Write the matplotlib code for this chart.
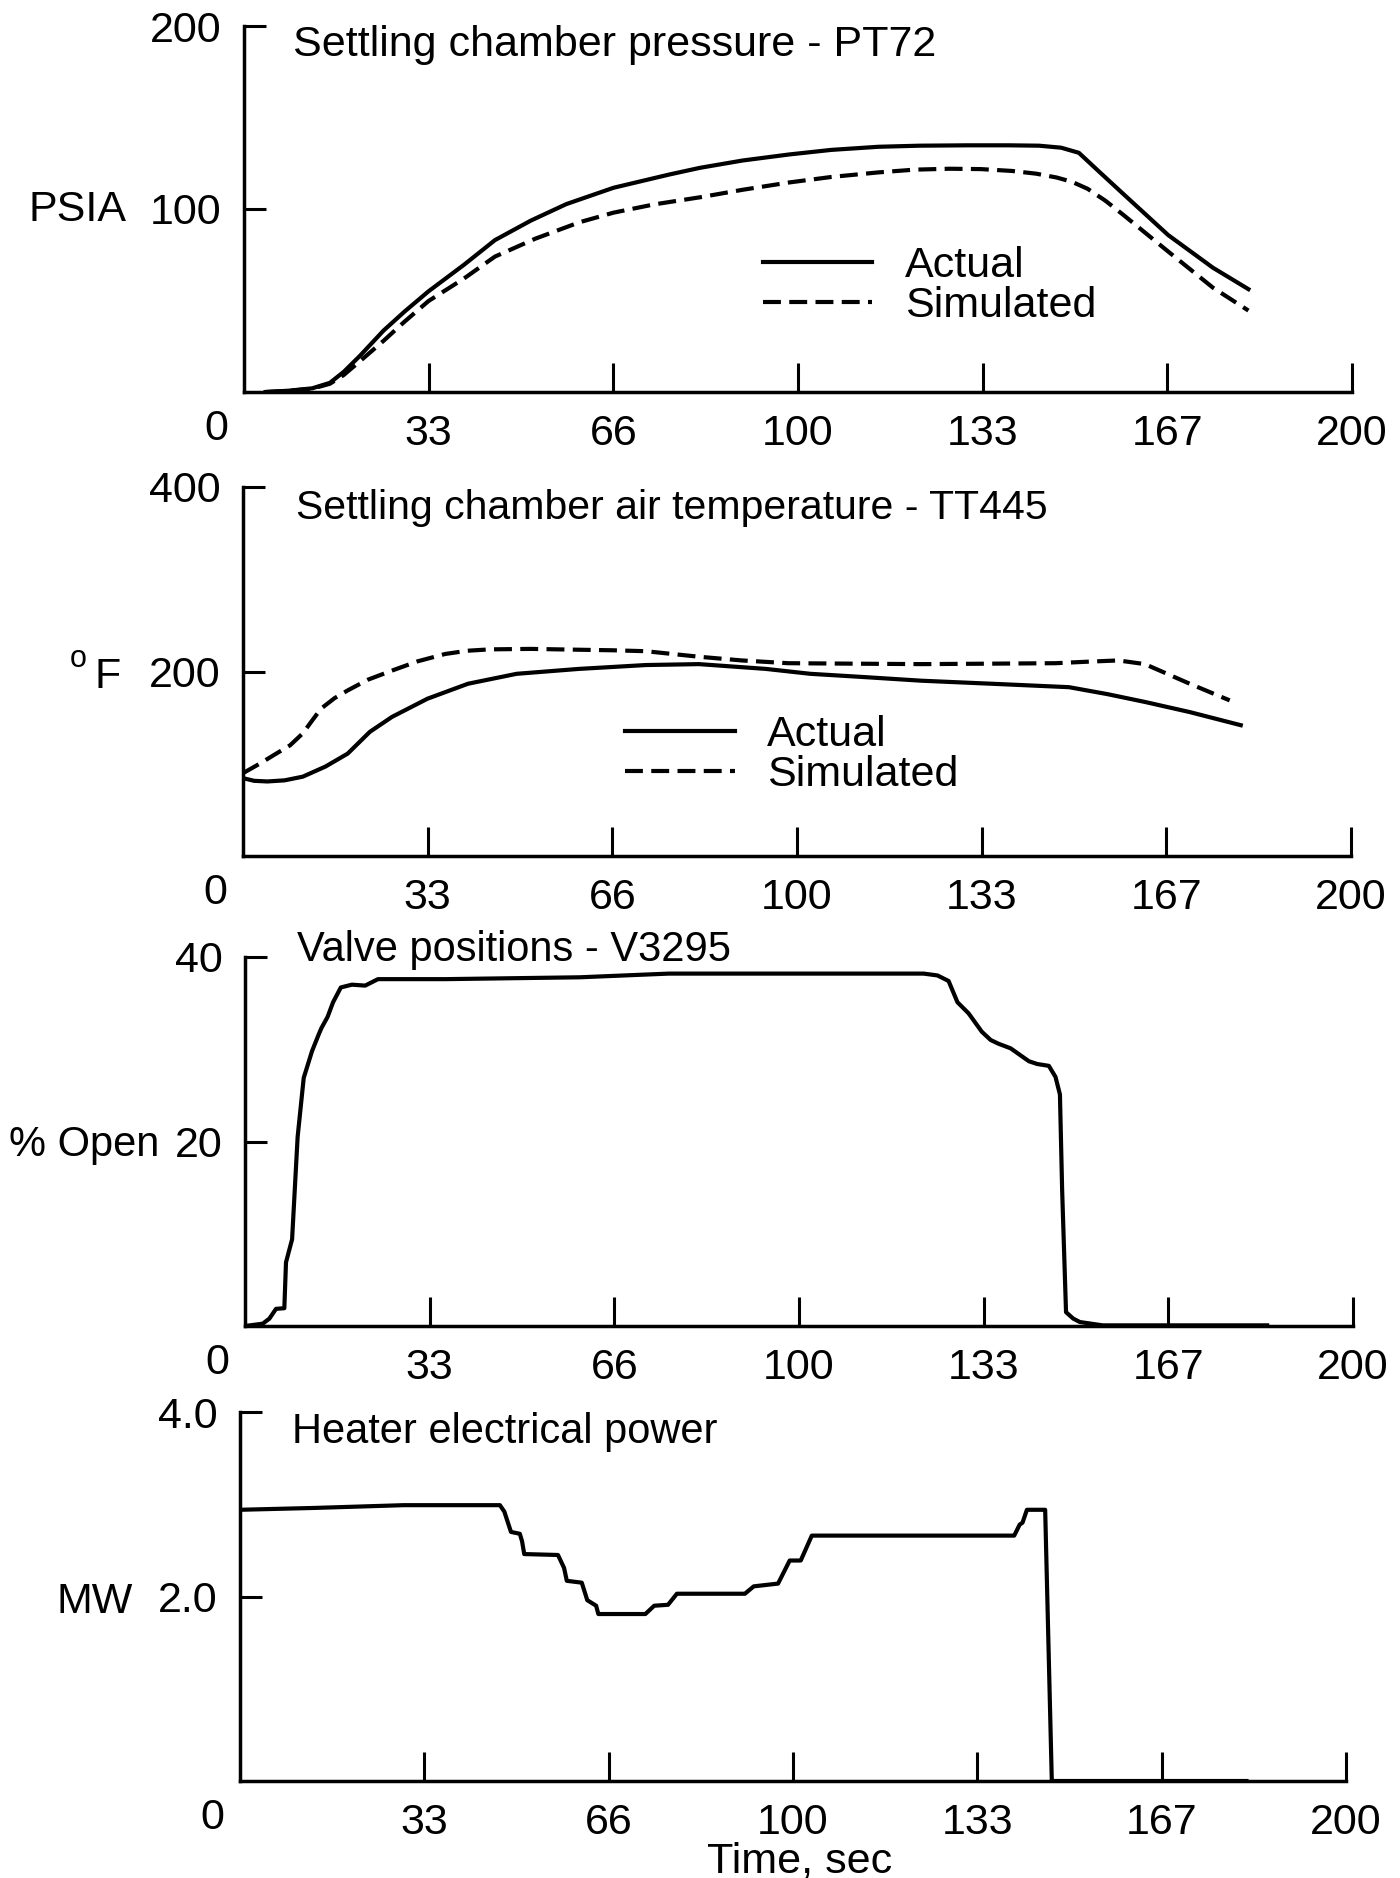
import matplotlib
matplotlib.use('Agg')
import matplotlib.pyplot as plt
import matplotlib.transforms as mtransforms

plt.rcParams['font.family'] = ['Liberation Sans', 'DejaVu Sans']

# ---------------- data ----------------
time_ticks = [100/3, 200/3, 100, 400/3, 500/3, 200]
time_tick_labels = ['33', '66', '100', '133', '167', '200']

# Panel 1: settling chamber pressure (PSIA)
p_act_t = [3.9, 8, 12.3, 15.5, 18, 21, 25.2, 29, 33.3, 39.7, 45.3, 51.8, 58.2, 66.7, 76.7, 82.3, 90,
           98.4, 106, 114.5, 122, 130.6, 138, 143.5, 147.5, 150.7, 154.5, 158.8, 166.8, 174.9, 181.3]
p_act_v = [0, 0.7, 2, 5, 11, 20, 33.6, 44, 55, 69.5, 83, 93.7, 102.7, 111.6, 118.8, 122.5, 126.5,
           129.8, 132.3, 134, 134.6, 134.8, 134.8, 134.6, 133.5, 130.7, 120, 108, 85.8, 67.9, 56.2]
p_sim_t = [3.9, 8, 12.3, 15.5, 18, 21, 25.2, 29, 33.3, 39.7, 45.3, 52.6, 60.6, 66.7, 74, 82.3, 90,
           98.4, 106, 114.5, 121, 127.4, 133, 138.6, 143, 146.7, 149.5, 152.3, 155.5, 158.8, 166.8,
           174.9, 181.3]
p_sim_v = [0, 0.6, 1.8, 4.5, 9.3, 17, 28, 38.5, 49.7, 62, 74, 83.8, 92.8, 98, 102.5, 106.4, 110.5,
           114.5, 117.5, 120, 121.5, 122, 121.8, 120.8, 119.3, 117.2, 114.8, 111, 104.5, 96.6, 76.8,
           57, 44.5]

# Panel 2: settling chamber air temperature (deg F)
t_act_t = [0, 2, 4.4, 7.5, 10.8, 14.9, 18.9, 22.9, 26.9, 33.3, 40.6, 49.4, 60.6, 72.7, 82.3, 94.4,
           102.4, 112, 122.5, 136, 149.1, 156, 162.8, 170.9, 180.1]
t_act_v = [84.4, 81.5, 80.8, 82, 86, 97, 111, 134.6, 150.8, 170.5, 186.7, 197.5, 202.8, 207, 208,
           202.8, 197.5, 194, 190, 186.5, 183, 175.5, 167, 156, 141.8]
t_sim_t = [0, 3, 6, 8.5, 10.8, 12.5, 14.1, 16.5, 18.9, 22.5, 26.9, 31.5, 36.5, 40.5, 44.6, 52, 60.6,
           66.7, 72.7, 82.3, 90, 98.4, 110, 122.5, 135, 146.7, 152, 158, 162.8, 166.8, 170.9, 178.1]
t_sim_v = [89.8, 100, 111, 120, 133, 147, 159.8, 171, 179.5, 191, 201, 211, 219, 222.5, 224, 224.5,
           223.6, 223, 222, 216, 212, 209, 208.5, 208, 208.5, 209, 210.5, 212, 208, 197.5, 186.7,
           168.7]

# Panel 3: valve position V3295 (% open)
v_t = [0, 3.2, 4.4, 5.6, 7.1, 7.4, 8.5, 9.5, 10.6, 12.1, 13.3, 13.8, 14.9, 15.9, 17.3, 19.3, 21.7,
       24, 36.2, 60.4, 76.5, 100, 122.5, 125, 127, 128.6, 130.6, 133, 134.6, 136, 138.2, 141.5, 143,
       145.1, 146.3, 147.1, 147.5, 148.2, 149.5, 150.7, 154.8, 184.5]
v_open = [0, 0.25, 0.8, 1.86, 1.93, 6.9, 9.4, 20.5, 26.9, 29.8, 31.6, 32.3, 33.5, 35.1, 36.7, 37,
          36.9, 37.6, 37.6, 37.8, 38.2, 38.2, 38.2, 38.0, 37.4, 35.1, 33.9, 31.9, 31.0, 30.6, 30.1,
          28.7, 28.4, 28.2, 27.0, 25.1, 14.7, 1.5, 0.8, 0.43, 0.07, 0.07]

# Panel 4: heater electrical power (MW)
h_t = [0, 13.4, 29.6, 47, 47.8, 49, 50.6, 51, 51.4, 57.5, 58.6, 59.1, 61.8, 62.8, 64.4, 64.8, 73.3,
       74.9, 77.4, 79, 91.3, 92.9, 97.3, 99.4, 101.4, 103.4, 140, 141, 141.5, 142.3, 145.6, 146.8, 182]
h_mw = [2.94, 2.96, 2.99, 2.99, 2.92, 2.70, 2.68, 2.60, 2.46, 2.45, 2.31, 2.17, 2.15, 1.96, 1.90,
        1.81, 1.81, 1.90, 1.91, 2.03, 2.03, 2.11, 2.14, 2.39, 2.39, 2.66, 2.66, 2.78, 2.80, 2.94,
        2.94, 0.0, 0.0]

series_labels = ['Actual', 'Simulated']

# ---------------- figure ----------------
W, H = 1400, 1878
fig = plt.figure(figsize=(W / 100, H / 100), dpi=100)

FS = 31
TFS = 30
LW = 3.0
DASH = (0, (4.3, 2.0))


def box(left_px, right_px, top_px, bottom_px):
    return [left_px / W, 1 - bottom_px / H, (right_px - left_px) / W, (bottom_px - top_px) / H]


def style(ax, ymax, yticks, ylabels):
    ax.set_xlim(0, 200)
    ax.set_ylim(0, ymax)
    for s in ('top', 'right'):
        ax.spines[s].set_visible(False)
    for s in ('left', 'bottom'):
        ax.spines[s].set_linewidth(2.5)
    ax.set_xticks(time_ticks)
    ax.set_xticklabels(time_tick_labels)
    ax.set_yticks(yticks)
    ax.set_yticklabels(ylabels)
    ax.tick_params(axis='x', direction='in', length=21, width=2.2, pad=16, labelsize=FS)
    ax.tick_params(axis='y', direction='in', length=16, width=2.2, pad=16, labelsize=FS)
    off = mtransforms.offset_copy(ax.transAxes, fig=fig, x=-28, y=-37, units='dots')
    ax.text(0, 0, '0', transform=off, ha='center', va='center', fontsize=FS)


def ftext(x, y, s, **kw):
    fig.text(x / W, 1 - y / H, s, **kw)


def legend(ax, x, top):
    ax.legend(loc='upper left', bbox_to_anchor=(x, top), frameon=False, fontsize=FS,
              handlelength=2.55, handletextpad=0.75, labelspacing=0.0, borderpad=0,
              borderaxespad=0)


# Panel 1
ax1 = fig.add_axes(box(244, 1352, 26, 392))
style(ax1, 200, [100, 200], ['100', '200'])
ax1.plot(p_act_t, p_act_v, color='black', lw=LW, label=series_labels[0])
ax1.plot(p_sim_t, p_sim_v, color='black', lw=LW, ls=DASH, label=series_labels[1])
ax1.text(0.044, 1 - (56 - 26) / 366, 'Settling chamber pressure - PT72', transform=ax1.transAxes,
         ha='left', va='baseline', fontsize=31)
legend(ax1, 0.468, 0.40)
ftext(77, 221, 'PSIA', ha='center', va='baseline', fontsize=FS)

# Panel 2
ax2 = fig.add_axes(box(243, 1351, 487, 856))
style(ax2, 400, [200, 400], ['200', '400'])
ax2.plot(t_act_t, t_act_v, color='black', lw=LW, label=series_labels[0])
ax2.plot(t_sim_t, t_sim_v, color='black', lw=LW, ls=DASH, label=series_labels[1])
ax2.text(0.048, 1 - (519 - 487) / 369, 'Settling chamber air temperature - TT445',
         transform=ax2.transAxes, ha='left', va='baseline', fontsize=29.5)
legend(ax2, 0.345, 0.382)
ftext(78, 667, 'o', ha='center', va='baseline', fontsize=22)
ftext(108, 688, 'F', ha='center', va='baseline', fontsize=FS)

# Panel 3
ax3 = fig.add_axes(box(245, 1353, 957, 1326))
style(ax3, 40, [20, 40], ['20', '40'])
ax3.plot(v_t, v_open, color='black', lw=LW)
ax3.text(0.047, 1 - (961 - 957) / 369, 'Valve positions - V3295', transform=ax3.transAxes,
         ha='left', va='baseline', fontsize=TFS)
ftext(84, 1156, '% Open', ha='center', va='baseline', fontsize=30)

# Panel 4
ax4 = fig.add_axes(box(240, 1346, 1412, 1781))
style(ax4, 4.0, [2.0, 4.0], ['2.0', '4.0'])
ax4.plot(h_t, h_mw, color='black', lw=LW)
ax4.text(0.047, 1 - (1443 - 1412) / 369, 'Heater electrical power', transform=ax4.transAxes,
         ha='left', va='baseline', fontsize=TFS)
ftext(95, 1613, 'MW', ha='center', va='baseline', fontsize=FS)

ftext(800, 1872, 'Time, sec', ha='center', va='baseline', fontsize=FS)

fig.savefig('out.png', dpi=100)
